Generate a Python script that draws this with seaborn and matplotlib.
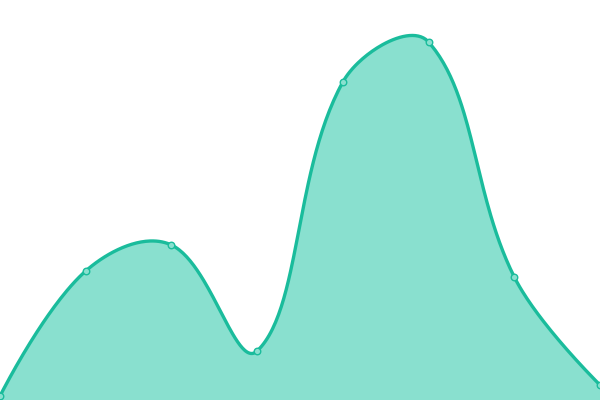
import numpy as np
import pandas as pd
import matplotlib
matplotlib.use('Agg')
import matplotlib.pyplot as plt
import seaborn as sns

# data
categories = [0, 1, 2, 3, 4, 5, 6, 7]
values = [4, 129, 155, 49, 318, 358, 123, 15]

line_color = '#1abc9c'
fill_color = '#89e0cf'

W, H = 600, 400
X_MAX, Y_MAX = 7, 400


# bezier smoothing between points, control points weighted by segment length
def smooth_curve(xs, ys, smooth=0.38, n=60):
    # work in pixel space so the segment lengths look right
    px = np.asarray(xs, float) * W / X_MAX
    py = np.asarray(ys, float) * H / Y_MAX
    k = len(px)
    cp_in = np.zeros((k, 2))
    cp_out = np.zeros((k, 2))
    for i in range(k):
        p = np.array([px[i], py[i]])
        if i == 0 or i == k - 1:
            cp_in[i] = p
            cp_out[i] = p
            continue
        prev = np.array([px[i - 1], py[i - 1]])
        nxt = np.array([px[i + 1], py[i + 1]])
        v = nxt - prev
        d0 = np.linalg.norm(p - prev)
        d1 = np.linalg.norm(nxt - p)
        r = d1 / (d0 + d1)
        cp_in[i] = p - v * smooth * (1 - r)
        cp_out[i] = p + v * smooth * r
    t = np.linspace(0, 1, n)[:, None]
    segs = []
    for i in range(k - 1):
        p0 = np.array([px[i], py[i]])
        p3 = np.array([px[i + 1], py[i + 1]])
        b = ((1 - t)**3 * p0 + 3 * (1 - t)**2 * t * cp_out[i]
             + 3 * (1 - t) * t**2 * cp_in[i + 1] + t**3 * p3)
        segs.append(b)
    pts = np.vstack(segs)
    return pts[:, 0] * X_MAX / W, pts[:, 1] * Y_MAX / H


sx, sy = smooth_curve(categories, values)
curve = pd.DataFrame({'x': sx, 'y': sy})
pts = pd.DataFrame({'x': categories, 'y': values})

sns.set_style('white')
fig = plt.figure(figsize=(6, 4), dpi=100)
ax = fig.add_axes([0, 0, 1, 1])

ax.fill_between(sx, sy, 0, color=fill_color, linewidth=0)
sns.lineplot(data=curve, x='x', y='y', sort=False, color=line_color, linewidth=2.4, ax=ax)
sns.scatterplot(data=pts, x='x', y='y', s=22, color=fill_color, edgecolor=line_color,
                linewidth=1.0, zorder=5, ax=ax, clip_on=False)

ax.set_xlim(0, X_MAX)
ax.set_ylim(0, Y_MAX)
ax.axis('off')

fig.savefig('out.png', dpi=100)
